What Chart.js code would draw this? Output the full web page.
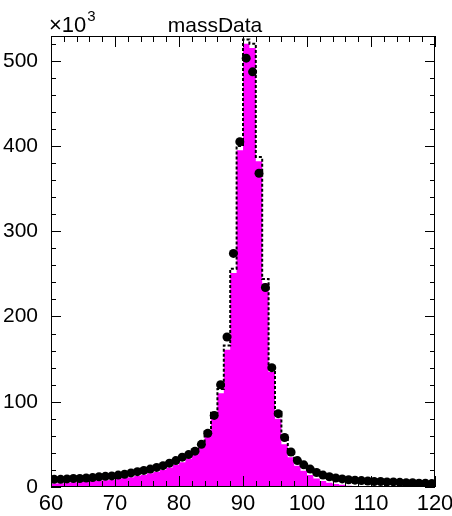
<!DOCTYPE html>
<html>
<head>
<meta charset="UTF-8">
<title>massData</title>
<script src="https://cdn.jsdelivr.net/npm/chart.js"></script>
<style>
  html, body { margin: 0; padding: 0; background: #fff; }
  #wrap { width: 452px; height: 516px; }
</style>
</head>
<body>
<div id="wrap"><canvas id="massChart"></canvas></div>
<script>
// bins of width 1 from 60 to 120, values in units of 10^3
const binEdgeLow = 60;
const binWidth = 1;

// magenta filled histogram (signal)
const signalCounts = [
  4, 4.5, 5, 5.5, 6, 6.5, 7, 7.5, 8, 8.5,
  9.5, 10.5, 11.5, 13, 14.5, 16, 18, 20, 23, 26,
  29, 33, 38, 47, 60, 82, 110, 161, 251, 395,
  520, 515, 382, 239, 135, 80, 50, 35, 25, 19,
  14, 10, 7, 5, 3.5, 2.5, 1.5, 0.5, 0, 0,
  0, 0, 0, 0, 0, 0, 0, 0, 0, 0
];

// dashed outline histogram (total)
const totalCounts = [
  9.5, 9.5, 10, 10.5, 11, 11.5, 12, 12.5, 13, 13.5,
  14.5, 15.5, 17, 18.5, 20, 21.5, 23.5, 25.5, 28.5, 31.5,
  35, 39, 44, 52, 65, 87, 115, 166, 256, 400,
  525, 520, 387, 244, 141, 88, 58, 42, 32, 26,
  21, 17.5, 15, 13, 11.5, 10.5, 9.5, 9, 8.5, 8,
  7.5, 7.5, 7, 7, 6.5, 6.5, 6, 6, 5.5, 5.5
];

// data points at bin centres
const dataCounts = [
  9, 9, 9.5, 10, 10, 10.5, 11, 12, 12.5, 13,
  14, 15, 16.5, 18, 19.5, 21, 23, 25, 28, 31,
  35, 38, 42, 50, 63, 84, 120, 176, 274, 405,
  503, 487, 368, 234, 140, 86, 58, 41, 31, 26,
  21, 17, 14, 12, 10.5, 9.5, 8.5, 8, 7.5, 7,
  6.5, 6.5, 6, 6, 5.5, 5, 5, 4.5, 4.5, 4
];

const xTicks = [60, 70, 80, 90, 100, 110, 120];
const yTicks = [0, 100, 200, 300, 400, 500];
const xMinorStep = 2;
const yMinorStep = 20;
const yMax = 529;

function stepPoints(counts) {
  const pts = counts.map((v, i) => ({ x: binEdgeLow + i * binWidth, y: v }));
  pts.push({ x: binEdgeLow + counts.length * binWidth, y: counts[counts.length - 1] });
  return pts;
}

const markerPoints = dataCounts.map((v, i) => ({ x: binEdgeLow + (i + 0.5) * binWidth, y: v }));

const FONT = 'Liberation Sans, Arial, Helvetica, sans-serif';

// horizontal error bars (bin width) for the data points
const xErrorBars = {
  id: 'xErrorBars',
  afterDatasetsDraw(chart) {
    const { ctx, chartArea: a, scales: { x, y } } = chart;
    ctx.save();
    ctx.beginPath();
    ctx.rect(a.left, a.top, a.width, a.height);
    ctx.clip();
    ctx.strokeStyle = '#000';
    ctx.lineWidth = 2;
    ctx.beginPath();
    markerPoints.forEach(p => {
      const py = y.getPixelForValue(p.y);
      ctx.moveTo(x.getPixelForValue(p.x - binWidth / 2), py);
      ctx.lineTo(x.getPixelForValue(p.x + binWidth / 2), py);
    });
    ctx.stroke();
    ctx.restore();
  }
};

// ROOT-like frame with ticks on all four sides, plus title and exponent
const frameTicks = {
  id: 'frameTicks',
  afterDraw(chart) {
    const { ctx, chartArea: a, scales: { x, y } } = chart;
    ctx.save();
    ctx.strokeStyle = '#000';
    ctx.lineWidth = 1;
    ctx.strokeRect(Math.round(a.left) + 0.5, Math.round(a.top) + 0.5,
                   Math.round(a.width) - 1, Math.round(a.height) - 1);
    ctx.beginPath();
    for (let v = x.min; v <= x.max + 1e-6; v += xMinorStep) {
      const px = Math.round(x.getPixelForValue(v)) + 0.5;
      const len = (v % 10 === 0) ? 11 : 6;
      ctx.moveTo(px, a.bottom); ctx.lineTo(px, a.bottom - len);
      ctx.moveTo(px, a.top); ctx.lineTo(px, a.top + len);
    }
    for (let v = 0; v <= yMax; v += yMinorStep) {
      const py = Math.round(y.getPixelForValue(v)) + 0.5;
      const len = (v % 100 === 0) ? 10 : 5;
      ctx.moveTo(a.left, py); ctx.lineTo(a.left + len, py);
      ctx.moveTo(a.right, py); ctx.lineTo(a.right - len, py);
    }
    ctx.stroke();

    ctx.fillStyle = '#000';
    ctx.textBaseline = 'alphabetic';
    ctx.textAlign = 'center';
    ctx.font = '21px ' + FONT;
    ctx.fillText('massData', 215, 32);

    ctx.textAlign = 'left';
    ctx.font = '22px ' + FONT;
    ctx.fillText('\u00d710', 49, 32);
    const w = ctx.measureText('\u00d710').width;
    ctx.font = '15px ' + FONT;
    ctx.fillText('3', 49 + w + 1, 21);
    ctx.restore();
  }
};

new Chart(document.getElementById('massChart'), {
  type: 'scatter',
  data: {
    datasets: [
      {
        label: 'data',
        data: markerPoints,
        showLine: false,
        pointRadius: 4.5,
        pointBackgroundColor: '#000',
        pointBorderColor: '#000',
        pointBorderWidth: 0,
        order: 0
      },
      {
        type: 'line',
        label: 'total',
        data: stepPoints(totalCounts),
        stepped: true,
        fill: false,
        borderColor: '#000',
        borderWidth: 2,
        borderDash: [3, 2],
        pointRadius: 0,
        order: 1
      },
      {
        type: 'line',
        label: 'signal',
        data: stepPoints(signalCounts),
        stepped: true,
        fill: 'origin',
        backgroundColor: '#ff00ff',
        borderColor: '#ff00ff',
        borderWidth: 0,
        pointRadius: 0,
        order: 2
      }
    ]
  },
  options: {
    responsive: true,
    maintainAspectRatio: false,
    animation: false,
    layout: { padding: { top: 36, right: 17, left: 0, bottom: 0 } },
    plugins: {
      legend: { display: false },
      tooltip: { enabled: false },
      title: { display: false }
    },
    scales: {
      x: {
        type: 'linear',
        min: 60,
        max: 120,
        grid: { display: false },
        border: { display: false },
        afterBuildTicks: s => { s.ticks = xTicks.map(v => ({ value: v })); },
        afterFit: s => { s.height = 29; },
        ticks: {
          color: '#000',
          padding: -4,
          maxRotation: 0,
          autoSkip: false,
          font: { family: FONT, size: 22 }
        }
      },
      y: {
        min: 0,
        max: yMax,
        grid: { display: false },
        border: { display: false },
        afterBuildTicks: s => { s.ticks = yTicks.map(v => ({ value: v })); },
        afterFit: s => { s.width = 51; },
        ticks: {
          color: '#000',
          padding: 5,
          font: { family: FONT, size: 21 }
        }
      }
    }
  },
  plugins: [xErrorBars, frameTicks]
});
</script>
</body>
</html>
